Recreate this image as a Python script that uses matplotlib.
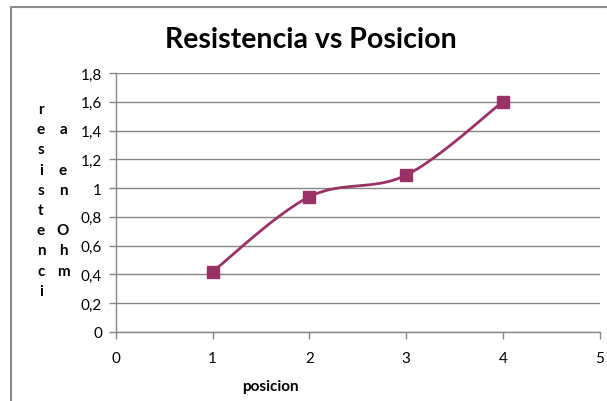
import numpy as np
import matplotlib.pyplot as plt
from matplotlib.patches import Rectangle

# data
posicion = [1, 2, 3, 4]
resistencia = [0.42, 0.94, 1.09, 1.60]
yticks = [0, 0.2, 0.4, 0.6, 0.8, 1, 1.2, 1.4, 1.6, 1.8]
ytick_labels = ['0', '0,2', '0,4', '0,6', '0,8', '1', '1,2', '1,4', '1,6', '1,8']
xticks = [0, 1, 2, 3, 4, 5]

line_color = '#993366'
grid_color = '#868686'


def smooth(xs, ys, n=30):
    # catmull-rom through the points, like the excel "smoothed line" option
    px = np.r_[xs[0], xs, xs[-1]]
    py = np.r_[ys[0], ys, ys[-1]]
    t = np.linspace(0, 1, n)
    outx, outy = [], []
    for i in range(1, len(px) - 2):
        for p, out in ((px, outx), (py, outy)):
            p0, p1, p2, p3 = p[i - 1], p[i], p[i + 1], p[i + 2]
            out.extend(0.5 * ((2 * p1) + (-p0 + p2) * t
                              + (2 * p0 - 5 * p1 + 4 * p2 - p3) * t ** 2
                              + (-p0 + 3 * p1 - 3 * p2 + p3) * t ** 3))
    return np.array(outx), np.array(outy)


plt.rcParams['font.family'] = ['Lato', 'DejaVu Sans']

fig = plt.figure(figsize=(6.07, 4.02), dpi=100)

# outer chart frame (only left and top edges show)
fig.patches.append(Rectangle((11 / 607, -0.1), 1.2, 1 - 8 / 402 + 0.1,
                             transform=fig.transFigure, fill=False,
                             edgecolor='#8a8a8a', linewidth=1.5))

ax = fig.add_axes([116 / 607, 1 - 333 / 402, (599.5 - 116) / 607, (333 - 74) / 402])

sx, sy = smooth(np.array(posicion, float), np.array(resistencia, float))
ax.plot(sx, sy, color=line_color, linewidth=2, zorder=3)
ax.plot(posicion, resistencia, linestyle='none', marker='s', markersize=9,
        color=line_color, zorder=4)

ax.set_xlim(0, 5)
ax.set_ylim(0, 1.8)
ax.set_xticks(xticks)
ax.set_yticks(yticks)
ax.set_yticklabels(ytick_labels)
ax.tick_params(axis='both', colors=grid_color, labelcolor='black', labelsize=11,
               length=5, width=1)
ax.tick_params(axis='y', pad=5)
ax.tick_params(axis='x', pad=9)
ax.grid(axis='y', color=grid_color, linewidth=1)
ax.set_axisbelow(True)
for side in ['top', 'right']:
    ax.spines[side].set_visible(False)
for side in ['left', 'bottom']:
    ax.spines[side].set_color(grid_color)
    ax.spines[side].set_linewidth(1)

fig.text(311 / 607, 1 - 40 / 402, 'Resistencia vs Posicion', ha='center', va='center',
         fontsize=20.5, fontweight='bold')
fig.text(270 / 607, 1 - 387 / 402, 'posicion', ha='center', va='center',
         fontsize=11, fontweight='bold')

# stacked axis title letters, one per row
col1 = ['r', 'e', 's', 'i', 's', 't', 'e', 'n', 'c', 'i']
col2 = ['', 'a', '', 'e', 'n', '', 'O', 'h', 'm', '']
for row, (a, b) in enumerate(zip(col1, col2)):
    y = 1 - (110 + row * 20.2) / 402
    fig.text(41 / 607, y, a, ha='center', va='center', fontsize=11, fontweight='bold')
    fig.text(63 / 607, y, b, ha='center', va='center', fontsize=11, fontweight='bold')

fig.savefig('out.png', dpi=100)
